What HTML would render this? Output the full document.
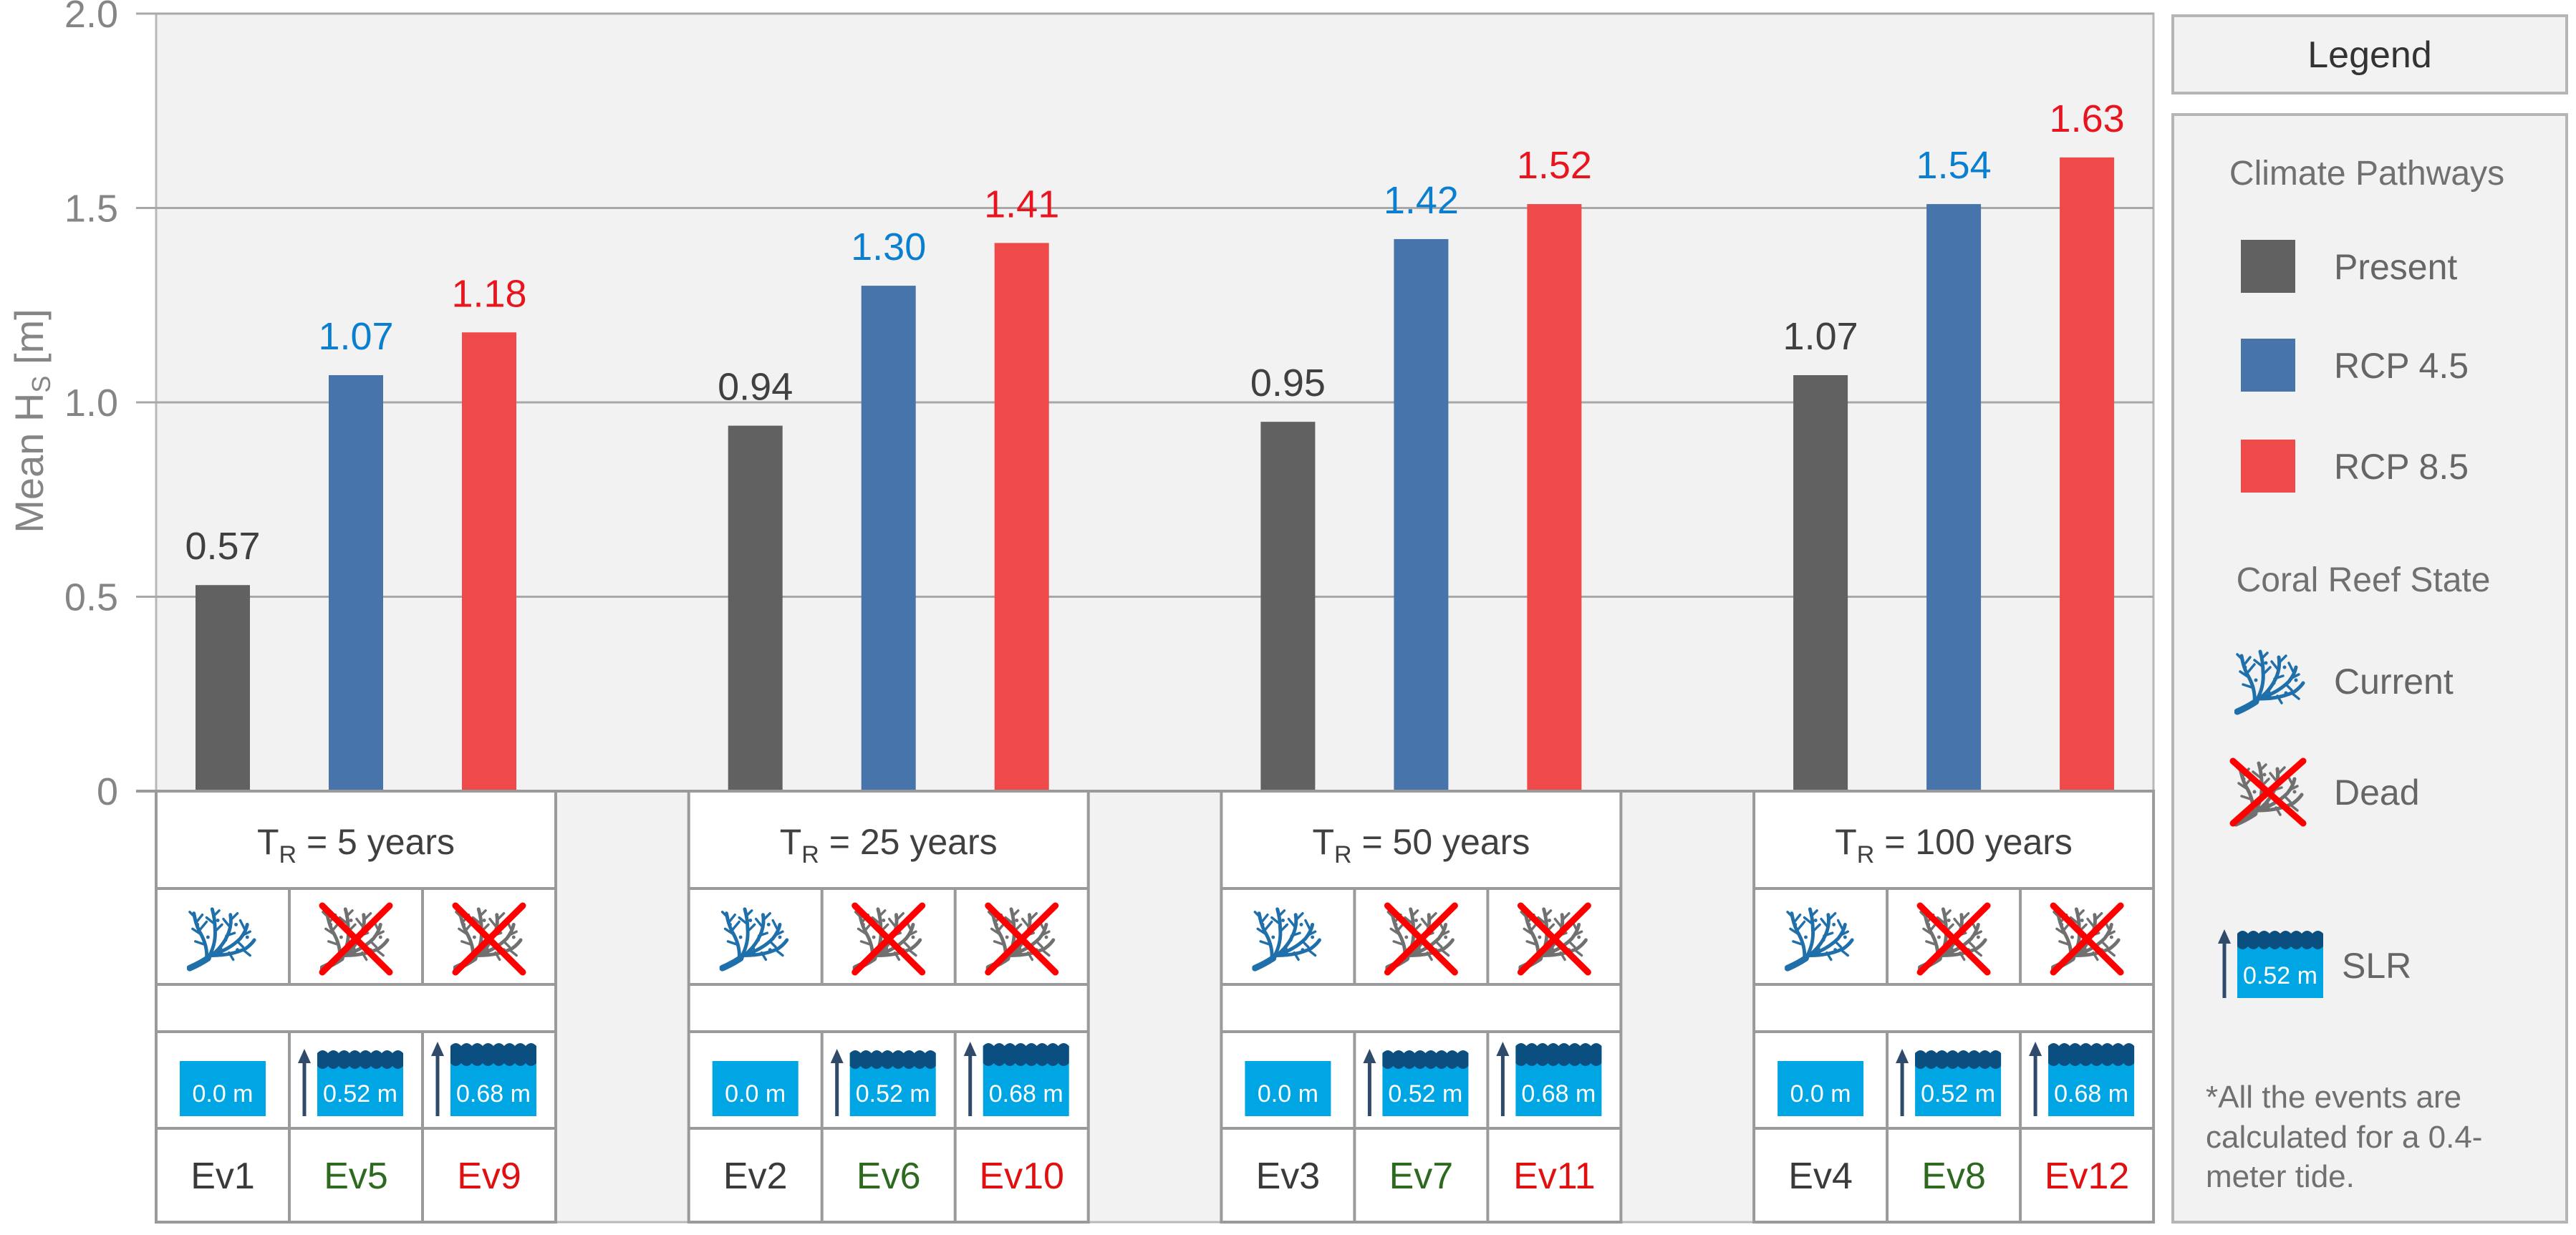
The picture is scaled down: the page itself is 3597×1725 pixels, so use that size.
<!DOCTYPE html>
<html><head><meta charset="utf-8"><style>
html,body{margin:0;padding:0;background:#fff;}
svg{display:block;font-family:"Liberation Sans",sans-serif;}
</style></head><body>
<svg id="chart" width="3597" height="1725" viewBox="0 0 3597 1725" xmlns="http://www.w3.org/2000/svg">
<defs>
<symbol id="coral" viewBox="0 0 100 100">
 <g fill="none" stroke-linecap="round">
  <path d="M4 92 Q18 86 30 78" stroke-width="9"/>
  <path d="M28 80 Q30 60 18 40 Q12 28 10 14" stroke-width="5"/>
  <path d="M30 78 Q42 58 40 36 Q40 22 36 8" stroke-width="5"/>
  <path d="M32 76 Q52 62 60 40 Q64 28 62 16" stroke-width="5"/>
  <path d="M34 74 Q60 66 76 50 Q84 40 86 30" stroke-width="5"/>
  <path d="M36 74 Q64 74 84 64 Q92 58 96 52" stroke-width="5"/>
  <path d="M20 44 L8 36 M18 38 L28 26 M14 26 L22 16 M12 20 L4 12 M40 40 L50 30 M38 28 L28 20 M38 18 L46 10 M56 46 L68 42 M60 32 L52 22 M62 24 L72 14 M72 54 L80 62 M78 46 L90 40 M82 36 L76 24 M60 70 L66 80 M80 66 L90 74 M24 58 L12 54 M48 60 L50 74" stroke-width="3.5"/>
 </g>
 <g stroke="none">
  <circle cx="15" cy="30" r="2.5"/><circle cx="44" cy="24" r="2.5"/><circle cx="70" cy="30" r="2.5"/><circle cx="86" cy="48" r="2.5"/><circle cx="55" cy="52" r="2.5"/><circle cx="30" cy="48" r="2.5"/><circle cx="72" cy="66" r="2.5"/>
 </g>
</symbol>
</defs>
<g id="root"></g>
</svg>
<script>
const categories = ["Ev1","Ev5","Ev9","Ev2","Ev6","Ev10","Ev3","Ev7","Ev11","Ev4","Ev8","Ev12"];
const groupLabels = ["5","25","50","100"];
const presentValues = [0.53, 0.94, 0.95, 1.07];
const rcp45Values = [1.07, 1.30, 1.42, 1.51];
const rcp85Values = [1.18, 1.41, 1.51, 1.63];
const presentLabels = ["0.57","0.94","0.95","1.07"];
const rcp45Labels = ["1.07","1.30","1.42","1.54"];
const rcp85Labels = ["1.18","1.41","1.52","1.63"];
const yTicks = [0, 0.5, 1.0, 1.5, 2.0];
const yTickLabels = ["0","0.5","1.0","1.5","2.0"];
const slrLabels = ["0.0 m","0.52 m","0.68 m"];

const NS = "http://www.w3.org/2000/svg";
const root = document.getElementById("root");
function mk(tag, attrs, parent, text){
  const e = document.createElementNS(NS, tag);
  for (const k in attrs) e.setAttribute(k, attrs[k]);
  if (text !== undefined) e.textContent = text;
  (parent || root).appendChild(e);
  return e;
}
const X0 = 218, X1 = 3007, Y0 = 1105, YT = 19, TB = 1707;
function yScale(v){ return Y0 - (v / 2.0) * (Y0 - YT); }
const GW = 558, GSTEP = 743.7, CW = 186;
function groupLeft(g){ return X0 + g * GSTEP; }
function colCenter(g, c){ return groupLeft(g) + CW / 2 + c * CW; }

// plot background
const bg = mk("rect", {x:X0, y:YT, width:X1-X0, height:TB-YT, fill:"#f2f2f2", stroke:"#b8b8b8", "stroke-width":3});



// gridlines + tick labels
yTicks.forEach((t, i) => {
  const y = yScale(t);
  const gl = mk("line", {x1:190, x2:X1, y1:y, y2:y, stroke:i===0?"#9a9a9a":"#a8a8a8", "stroke-width":i===0?4:3});
  
  
  const tl = mk("text", {x:165, y:y+19, "text-anchor":"end", "font-size":54, fill:"#858585"}, null, yTickLabels[i]);
  
  
});
// y title
const yt = mk("text", {transform:"translate(60,588) rotate(-90)", "text-anchor":"middle", "font-size":56, fill:"#858585"});


yt.appendChild(document.createTextNode("Mean H"));
mk("tspan", {"font-size":36, dy:10}, yt, "S");
mk("tspan", {dy:-10}, yt, " [m]");

// bars
const series = [
  {vals:presentValues, labs:presentLabels, fill:"#616161", tc:"#404040", name:"present"},
  {vals:rcp45Values, labs:rcp45Labels, fill:"#4674ab", tc:"#0a7fd0", name:"rcp45"},
  {vals:rcp85Values, labs:rcp85Labels, fill:"#ee4a4a", tc:"#e8141e", name:"rcp85"}
];
const BW = 76;
series.forEach((s, c) => {
  s.vals.forEach((v, g) => {
    const cx = colCenter(g, c), yt2 = yScale(v);
    const b = mk("rect", {x:cx-BW/2, y:yt2, width:BW, height:Y0-yt2, fill:s.fill});
    
    
    const l = mk("text", {x:cx, y:yt2-36, "text-anchor":"middle", "font-size":54, fill:s.tc}, null, s.labs[g]);
    
    
  });
});

// table
const rows = [Y0, 1241, 1375, 1441, 1576, TB];
const evColors = ["#3a3a3a","#2d6a1f","#e01010"];
function water(x, y, w, h, lvl, label, parent){
  const g = mk("g", {}, parent);
  if (lvl > 0) {
    mk("line", {x1:x-18, y1:y+h, x2:x-18, y2:y+8, stroke:"#2f4a6a", "stroke-width":5}, g);
    mk("path", {d:`M${x-27} ${y+20} L${x-18} ${y} L${x-9} ${y+20} Z`, fill:"#2f4a6a"}, g);
  }
  mk("rect", {x:x, y:y+6, width:w, height:h-6, fill:"#00a6e4"}, g);
  let d = `M${x} ${y+6}`;
  const n = 8, sw = w / n;
  for (let i = 0; i < n; i++) d += ` q${sw/2} -8 ${sw} 0`;
  if (lvl > 0) {
    const band = lvl === 1 ? 18 : 24;
    let p = `M${x} ${y+6}`;
    for (let i = 0; i < n; i++) p += ` q${sw/2} -8 ${sw} 0`;
    p += ` L${x+w} ${y+6+band}`;
    for (let i = 0; i < n; i++) p += ` q${-sw/2} 8 ${-sw} 0`;
    p += " Z";
    mk("path", {d:p, fill:"#0b4f80"}, g);
  } else {
    mk("path", {d:d + ` L${x+w} ${y} L${x} ${y} Z`, fill:"#ffffff"}, g);
  }
  mk("text", {x:x+w/2, y:y+h-20, "text-anchor":"middle", "font-size":34, fill:"#ffffff"}, g, label);
  return g;
}
for (let g = 0; g < 4; g++) {
  const gx = groupLeft(g);
  const tg = mk("g", {});
  
  
  mk("rect", {x:gx, y:Y0, width:GW, height:TB-Y0, fill:"#ffffff", stroke:"#9a9a9a", "stroke-width":4}, tg);
  rows.slice(1, -1).forEach(y => mk("line", {x1:gx, x2:gx+GW, y1:y, y2:y, stroke:"#9a9a9a", "stroke-width":4}, tg));
  [1, 2].forEach(c => {
    mk("line", {x1:gx+c*CW, x2:gx+c*CW, y1:rows[1], y2:rows[2], stroke:"#9a9a9a", "stroke-width":4}, tg);
    mk("line", {x1:gx+c*CW, x2:gx+c*CW, y1:rows[3], y2:TB, stroke:"#9a9a9a", "stroke-width":4}, tg);
  });
  const tt = mk("text", {x:gx+GW/2, y:1193, "text-anchor":"middle", "font-size":50, fill:"#404040"}, tg);
  
  
  tt.appendChild(document.createTextNode("T"));
  mk("tspan", {"font-size":34, dy:12}, tt, "R");
  mk("tspan", {dy:-12}, tt, " = " + groupLabels[g] + " years");
  for (let c = 0; c < 3; c++) {
    const cx = colCenter(g, c);
    const ic = mk("use", {href:"#coral", x:cx-50, y:1262, width:98, height:98, fill:c===0?"#1f6faa":"#707070", stroke:c===0?"#1f6faa":"#707070"}, tg);
    
    
    if (c > 0) {
      mk("path", {d:`M${cx-47} ${1265} L${cx+47} ${1358} M${cx+47} ${1265} L${cx-47} ${1358}`, stroke:"#ff0000", "stroke-width":9, "stroke-linecap":"round"}, tg);
    }
    const wx = c===0 ? cx-60 : cx-54;
    const wy = c===0 ? 1476 : (c===1 ? 1465 : 1455);
    const wi = water(wx, wy, 120, 1559-wy, c, slrLabels[c], tg);
    
    
    const ev = mk("text", {x:cx, y:1660, "text-anchor":"middle", "font-size":52, fill:evColors[c]}, tg, categories[g*3+c]);
    
    
  }
}

// legend
const lg = mk("g", {});


mk("rect", {x:3034, y:22, width:550, height:108, fill:"#f2f2f2", stroke:"#b5b5b5", "stroke-width":4}, lg);
const lt = mk("text", {x:3309, y:94, "text-anchor":"middle", "font-size":52, fill:"#333"}, lg, "Legend");


mk("rect", {x:3034, y:160, width:550, height:1547, fill:"#f2f2f2", stroke:"#b5b5b5", "stroke-width":4}, lg);
mk("text", {x:3305, y:258, "text-anchor":"middle", "font-size":48, fill:"#707070"}, lg, "Climate Pathways");
const legItems = [["Present","#616161",372],["RCP 4.5","#4674ab",510],["RCP 8.5","#ee4a4a",651]];
legItems.forEach(it => {
  const e = mk("g", {}, lg);
  
  
  mk("rect", {x:3129, y:it[2]-37, width:76, height:74, fill:it[1]}, e);
  mk("text", {x:3259, y:it[2]+18, "font-size":50, fill:"#666"}, e, it[0]);
});
mk("text", {x:3300, y:826, "text-anchor":"middle", "font-size":48, fill:"#707070"}, lg, "Coral Reef State");
const ce = mk("g", {}, lg);


mk("use", {href:"#coral", x:3120, y:902, width:100, height:100, fill:"#1f6faa", stroke:"#1f6faa"}, ce);
mk("text", {x:3259, y:969, "font-size":50, fill:"#666"}, ce, "Current");
const de = mk("g", {}, lg);


mk("use", {href:"#coral", x:3118, y:1058, width:100, height:100, fill:"#707070", stroke:"#707070"}, de);
mk("path", {d:"M3118 1063 L3216 1150 M3216 1063 L3118 1150", stroke:"#ff0000", "stroke-width":9, "stroke-linecap":"round"}, de);
mk("text", {x:3259, y:1124, "font-size":50, fill:"#666"}, de, "Dead");
const se = mk("g", {}, lg);


water(3124, 1298, 120, 96, 1, "0.52 m", se);
mk("text", {x:3270, y:1366, "font-size":50, fill:"#666"}, se, "SLR");
const fn = mk("text", {"font-size":44, fill:"#707070"}, lg);


mk("tspan", {x:3080, y:1547}, fn, "*All the events are");
mk("tspan", {x:3080, y:1603}, fn, "calculated for a 0.4-");
mk("tspan", {x:3080, y:1658}, fn, "meter tide.");
</script>
</body></html>
